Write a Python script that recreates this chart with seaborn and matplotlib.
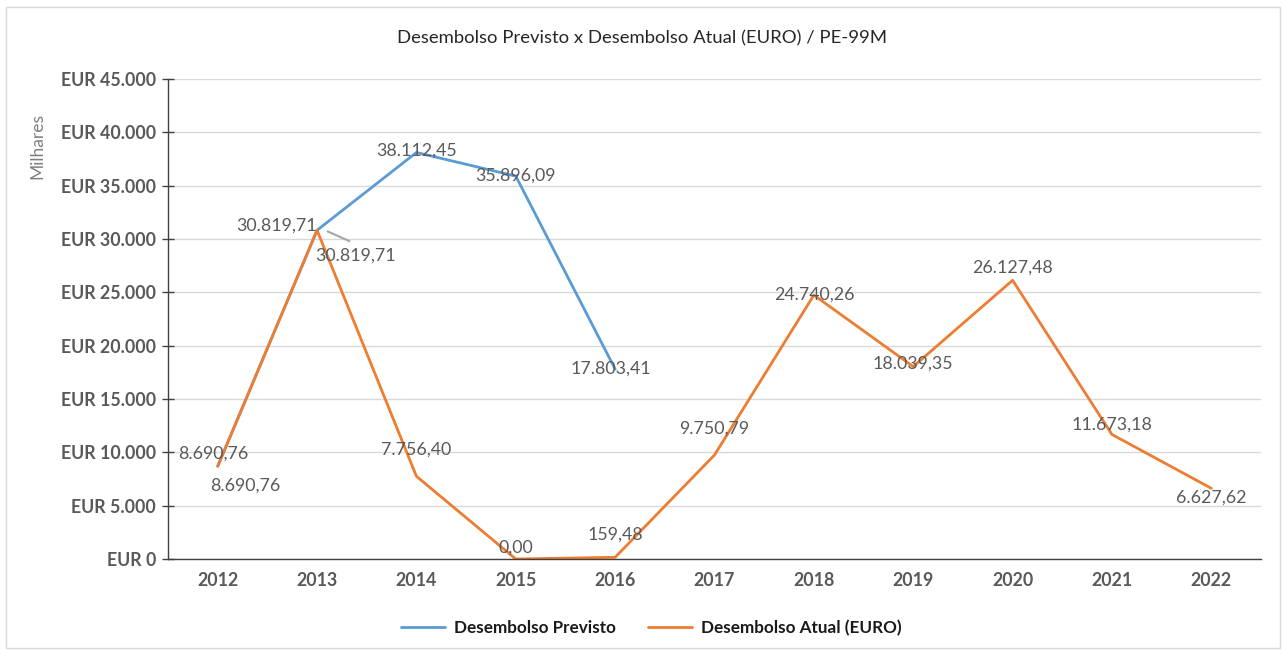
import matplotlib.pyplot as plt
import matplotlib.ticker as mticker
import numpy as np
import pandas as pd
import seaborn as sns
from matplotlib.patches import Rectangle

# Data (EUR thousands)
years = ["2012", "2013", "2014", "2015", "2016", "2017", "2018", "2019", "2020", "2021", "2022"]
previsto = [8690.76, 30819.71, 38112.45, 35896.09, 17803.41, None, None, None, None, None, None]
atual = [8690.76, 30819.71, 7756.40, 0.00, 159.48, 9750.79, 24740.26, 18039.35, 26127.48, 11673.18, 6627.62]

# label offsets in points (style only)
off_prev = [(-3, 9), (-29, 3), (0, 1), (0, 0), (-3, 0)]
off_atual = [(20, -14), (28, -18), (0, 19), (0, 8), (0, 16), (0, 19), (0, 0), (0, 2), (0, 9), (0, 7), (0, -7)]

BLUE = "#5B9BD5"
ORANGE = "#ED7D31"
GREY = "#595959"

sns.set_theme(style="white")
plt.rcParams["font.family"] = ["Lato", "DejaVu Sans"]

df = pd.DataFrame({"pos": np.arange(len(years)), "previsto": previsto, "atual": atual})

fig = plt.figure(figsize=(12.85, 6.55), dpi=100)
ax = fig.add_axes([168 / 1285, 1 - 559 / 655, (1261 - 168) / 1285, (559 - 79) / 655])

sns.lineplot(data=df, x="pos", y="previsto", color=BLUE, linewidth=2, ax=ax, label="Desembolso Previsto")
sns.lineplot(data=df, x="pos", y="atual", color=ORANGE, linewidth=2, ax=ax, label="Desembolso Atual (EURO)")


def br(v):
    return f"{v:,.2f}".replace(",", "X").replace(".", ",").replace("X", ".")


for i, v in enumerate(previsto):
    if v is None:
        continue
    ax.annotate(br(v), (i, v), xytext=off_prev[i], textcoords="offset points",
                ha="center", va="center", fontsize=12.8, color=GREY)
for i, v in enumerate(atual):
    ax.annotate(br(v), (i, v), xytext=off_atual[i], textcoords="offset points",
                ha="center", va="center", fontsize=12.8, color=GREY)

# leader line for 2013 label
ax.annotate("", xy=(1.08, 30819.71), xytext=(1.35, 29700),
            arrowprops=dict(arrowstyle="-", color="#A6A6A6", lw=1.5))

ax.set_xlim(-0.5, len(years) - 0.5)
ax.set_ylim(0, 45000)
ax.yaxis.set_major_locator(mticker.MultipleLocator(5000))
ax.yaxis.set_major_formatter(mticker.FuncFormatter(
    lambda v, p: "EUR " + f"{v:,.0f}".replace(",", ".")))
ax.set_xticks(range(len(years)))
ax.set_xticklabels(years)
ax.set_xticks(np.arange(-0.5, len(years)), minor=True)
ax.tick_params(axis="x", which="major", length=0, pad=9)
ax.tick_params(axis="x", which="minor", direction="inout", length=9, width=1, color="#404040")
ax.tick_params(axis="y", direction="inout", length=9, width=1, color="#404040", pad=4, left=True)
for lab in ax.get_xticklabels() + ax.get_yticklabels():
    lab.set_fontweight("bold")
    lab.set_fontsize(12.8)
    lab.set_color(GREY)

ax.grid(axis="y", color="#D9D9D9", linewidth=1)
ax.set_axisbelow(True)
for s in ["top", "right"]:
    ax.spines[s].set_visible(False)
for s in ["left", "bottom"]:
    ax.spines[s].set_color("#404040")
    ax.spines[s].set_linewidth(1)

ax.set_xlabel("")
ax.set_ylabel("Milhares", fontsize=12.5, color="#7F7F7F")
ax.yaxis.set_label_coords(-0.112, 0.86)

fig.text(0.5, 1 - 38 / 655, "Desembolso Previsto x Desembolso Atual (EURO) / PE-99M",
         ha="center", va="center", fontsize=13.3, color="#262626")

leg = ax.legend(loc="center", bbox_to_anchor=(0.442, -0.143), ncol=2, frameon=False,
                fontsize=12.3, handlelength=2.6, handletextpad=0.5, columnspacing=1.9)
for t in leg.get_texts():
    t.set_fontweight("bold")
    t.set_color("#1A1A1A")

fig.patches.append(Rectangle((6 / 1285, 7 / 655), 1274 / 1285, 641 / 655,
                             transform=fig.transFigure, fill=False,
                             edgecolor="#D9D9D9", linewidth=1))

fig.savefig("out.png", dpi=100)
